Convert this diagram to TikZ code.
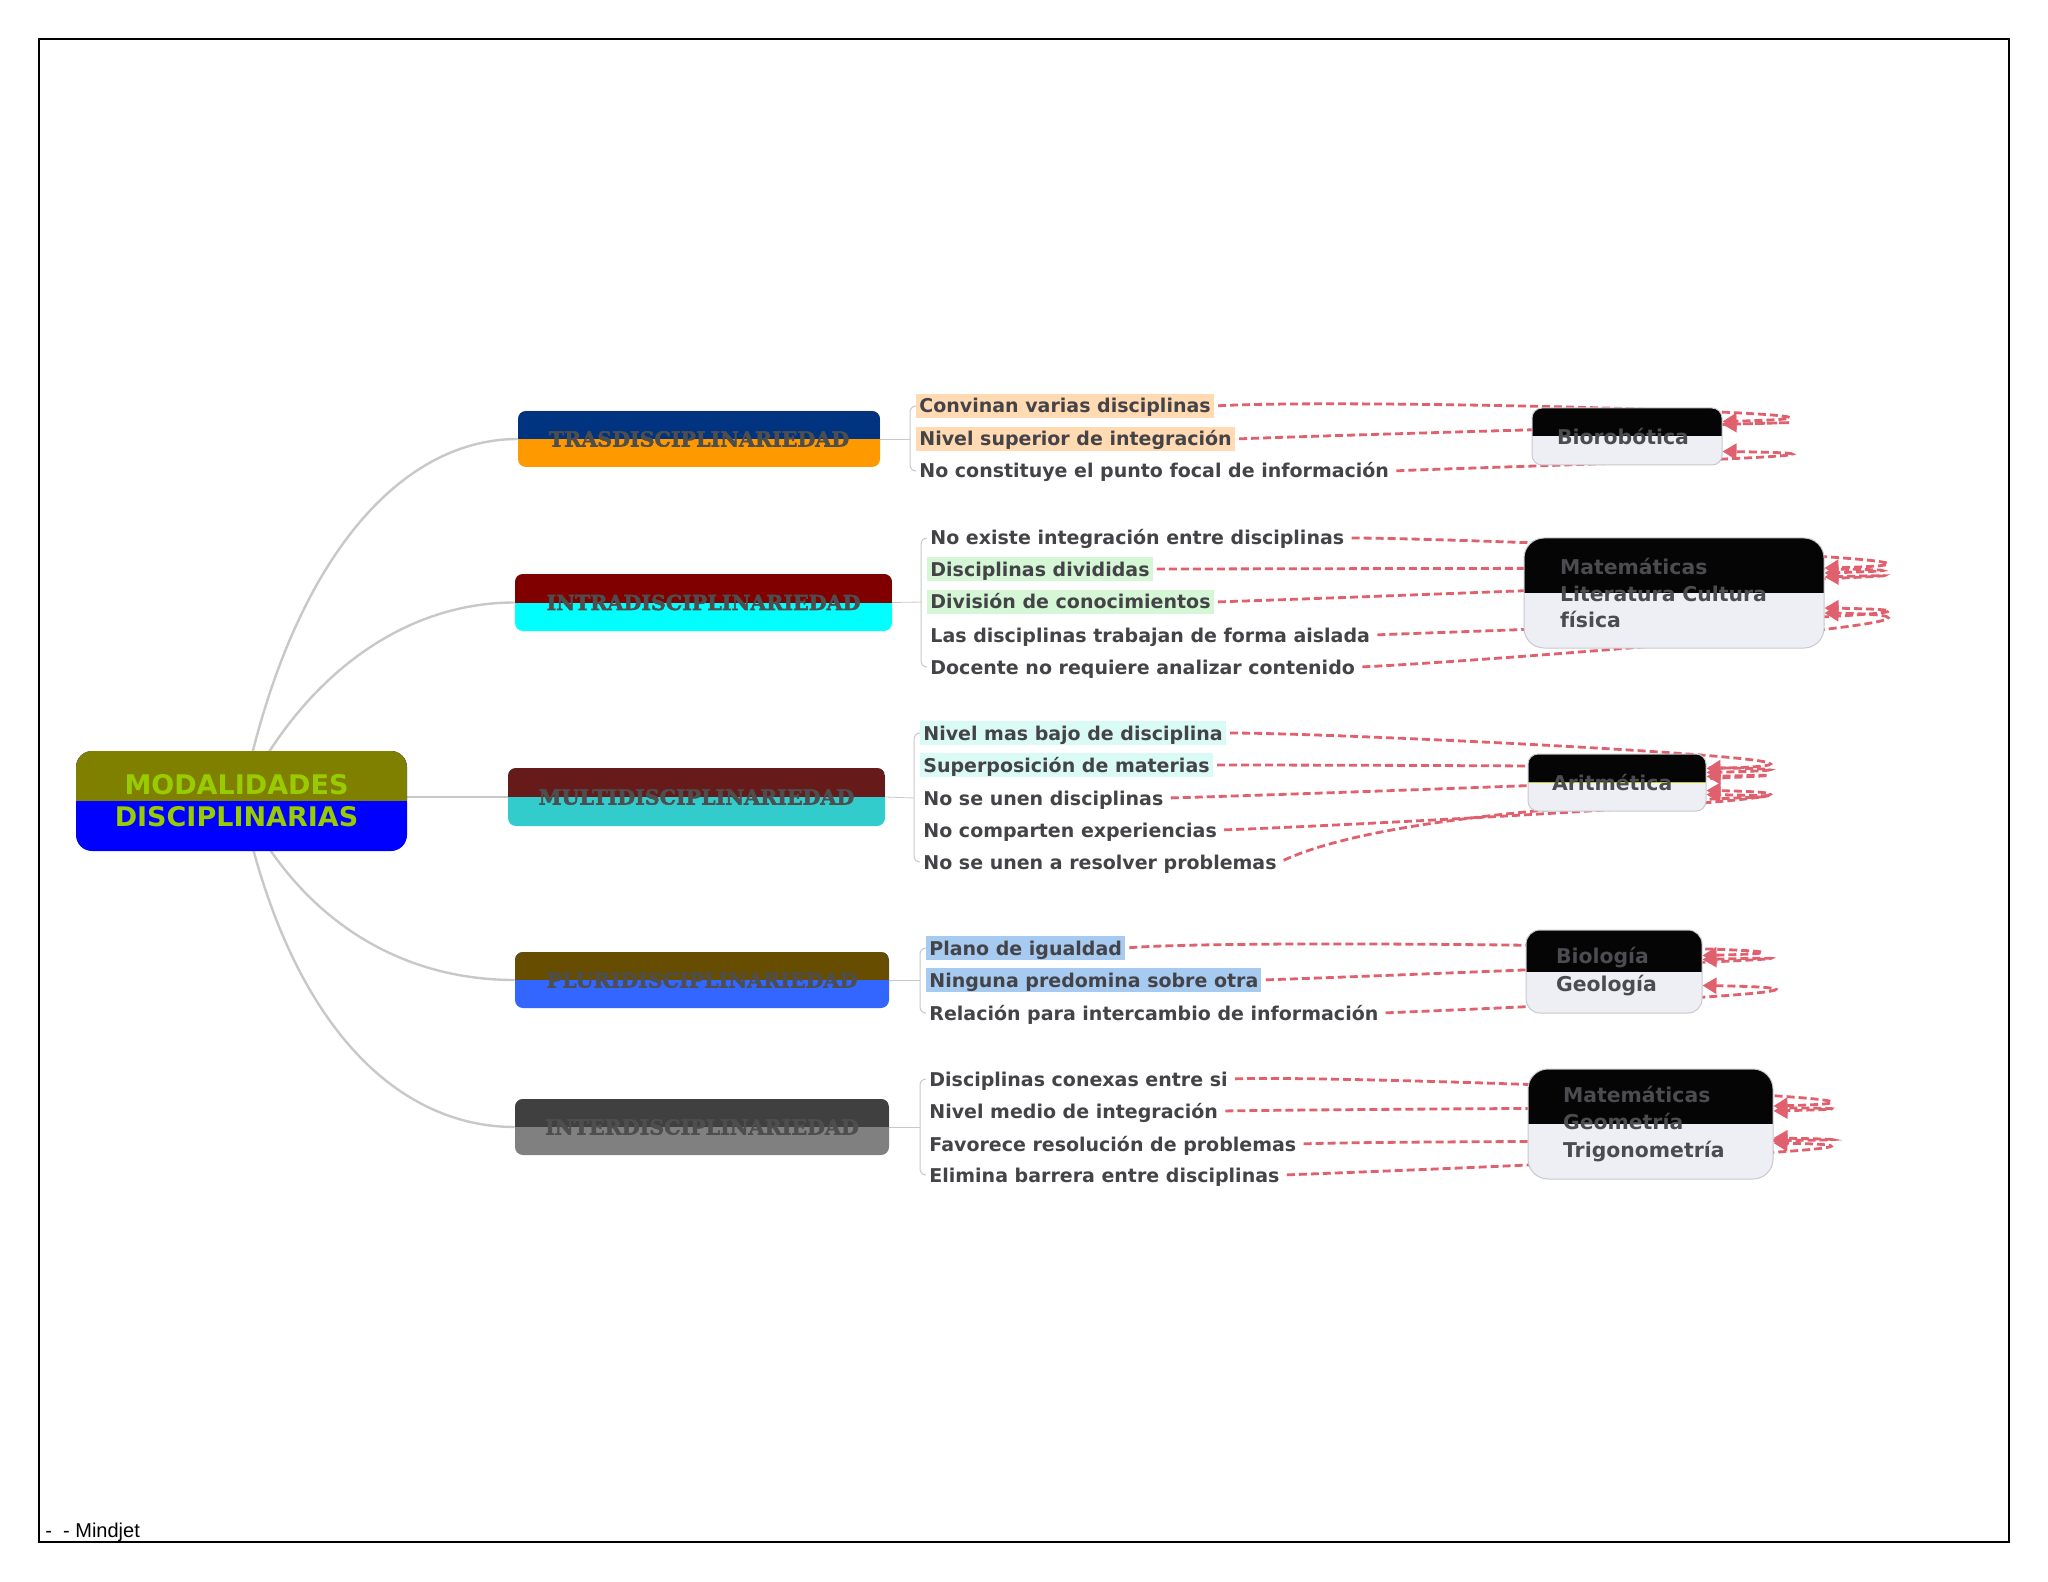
\documentclass[tikz,border=0pt]{standalone}
\usepackage{fontspec}
\newfontfamily\sansdv{DejaVu Sans}
\newfontfamily\serifdv{DejaVu Serif}[BoldFeatures={FakeBold=2.5}]
\newfontfamily\arialf{Liberation Sans}
\usetikzlibrary{arrows.meta,calc,backgrounds}
\pgfdeclarelayer{back0}
\pgfsetlayers{back0,background,main}
\definecolor{rootTop}{RGB}{128,128,0}
\definecolor{rootBot}{RGB}{0,0,255}
\definecolor{rootText}{RGB}{153,204,0}
\definecolor{trasTop}{RGB}{0,51,128}
\definecolor{trasBot}{RGB}{255,153,0}
\definecolor{intraTop}{RGB}{128,0,0}
\definecolor{intraBot}{RGB}{0,255,255}
\definecolor{multiTop}{RGB}{102,26,26}
\definecolor{multiBot}{RGB}{51,204,204}
\definecolor{pluriTop}{RGB}{102,77,0}
\definecolor{pluriBot}{RGB}{51,102,255}
\definecolor{interTop}{RGB}{64,64,64}
\definecolor{interBot}{RGB}{128,128,128}
\definecolor{branchText}{RGB}{78,78,78}
\definecolor{subText}{RGB}{68,68,72}
\definecolor{tgtTop}{RGB}{5,5,5}
\definecolor{tgtBot}{RGB}{238,238,245}
\definecolor{tgtBorder}{RGB}{200,200,208}
\definecolor{tgtText}{RGB}{75,75,80}
\definecolor{relCol}{RGB}{224,96,110}
\definecolor{connCol}{RGB}{200,200,200}
\definecolor{splitLine}{RGB}{190,200,40}
\definecolor{hlPeach}{RGB}{255,218,179}
\definecolor{hlGreen}{RGB}{214,247,214}
\definecolor{hlCyan}{RGB}{218,250,246}
\definecolor{hlBlue}{RGB}{166,202,240}
\tikzset{
  twotone/.style 2 args={fill=#2, path picture={\fill[#1, sharp corners] (path picture bounding box.north west) rectangle (path picture bounding box.east);}},
  twotoneline/.style 2 args={fill=#2, path picture={\fill[#1, sharp corners] (path picture bounding box.north west) rectangle (path picture bounding box.east); \draw[splitLine, line width=0.6pt] (path picture bounding box.west) -- (path picture bounding box.east);}},
  rootbox/.style={twotone={rootTop}{rootBot}, rounded corners=8pt, inner sep=0pt, minimum width=165.5pt, minimum height=50pt, align=center, text=rootText, font=\sansdv\bfseries\fontsize{13.5pt}{16pt}\selectfont},
  branch/.style={rounded corners=4pt, inner sep=0pt, text=branchText, font=\serifdv\bfseries\fontsize{10.3pt}{12pt}\selectfont},
  sub/.style={anchor=west, inner xsep=1.5pt, inner ysep=1pt, text height=8.5pt, text depth=1.5pt, text=subText, font=\sansdv\bfseries\fontsize{9.5pt}{11pt}\selectfont},
  target/.style={draw=tgtBorder, line width=0.5pt, align=left, inner ysep=0pt, text=tgtText},
  tfont/.style={font=\sansdv\bfseries\fontsize{10.2pt}{#1}\selectfont},
  rel/.style={draw=relCol, line width=1.4pt, dash pattern=on 4pt off 2pt, shorten <=2pt, -{Triangle[length=7pt,width=8pt]}},
  conn/.style={draw=connCol, line width=1.2pt},
  brk/.style={draw=connCol, line width=0.5pt, rounded corners=3pt},
}
\begin{document}
\begin{tikzpicture}[x=0.5pt,y=-0.5pt]
\useasboundingbox (0,0) rectangle (2048,1582);
\begin{pgfonlayer}{back0}
\fill[white] (0,0) rectangle (2048,1582);
\draw[black, line width=0.6pt] (39,39) rectangle (2009,1542);
\end{pgfonlayer}

% root
\node[rootbox] (root) at (241.5,801) {\hspace*{-5pt}MODALIDADES\\\hspace*{-5pt}DISCIPLINARIAS};

% branches
\node[branch, twotone={trasTop}{trasBot}, minimum width=181pt, minimum height=28pt] (tras) at (699,439) {TRASDISCIPLINARIEDAD};
\node[branch, twotone={intraTop}{intraBot}, minimum width=188.5pt, minimum height=28.5pt] (intra) at (703.5,602.5) {INTRADISCIPLINARIEDAD};
\node[branch, twotone={multiTop}{multiBot}, minimum width=188.5pt, minimum height=29pt] (multi) at (696.5,797) {MULTIDISCIPLINARIEDAD};
\node[branch, twotone={pluriTop}{pluriBot}, minimum width=187pt, minimum height=28pt] (pluri) at (702,980) {PLURIDISCIPLINARIEDAD};
\node[branch, twotone={interTop}{interBot}, minimum width=187pt, minimum height=28pt] (inter) at (702,1127) {INTERDISCIPLINARIEDAD};

% subtopics
\node[sub, fill=hlPeach] (t11) at (916,406) {Convinan varias disciplinas};
\node[sub, fill=hlPeach] (t12) at (916,439) {Nivel superior de integración};
\node[sub] (t13) at (916,471) {No constituye el punto focal de información};

\node[sub] (t21) at (927,538) {No existe integración entre disciplinas};
\node[sub, fill=hlGreen] (t22) at (927,569) {Disciplinas divididas};
\node[sub, fill=hlGreen] (t23) at (927,602) {División de conocimientos};
\node[sub] (t24) at (927,635) {Las disciplinas trabajan de forma aislada};
\node[sub] (t25) at (927,667) {Docente no requiere analizar contenido};

\node[sub, fill=hlCyan] (t31) at (920,733) {Nivel mas bajo de disciplina};
\node[sub, fill=hlCyan] (t32) at (920,765) {Superposición de materias};
\node[sub] (t33) at (920,798) {No se unen disciplinas};
\node[sub] (t34) at (920,830) {No comparten experiencias};
\node[sub] (t35) at (920,862) {No se unen a resolver problemas};

\node[sub, fill=hlBlue] (t41) at (926,948) {Plano de igualdad};
\node[sub, fill=hlBlue] (t42) at (926,980) {Ninguna predomina sobre otra};
\node[sub] (t43) at (926,1013) {Relación para intercambio de información};

\node[sub] (t51) at (926,1079) {Disciplinas conexas entre si};
\node[sub] (t52) at (926,1111) {Nivel medio de integración};
\node[sub] (t53) at (926,1144) {Favorece resolución de problemas};
\node[sub] (t54) at (926,1175) {Elimina barrera entre disciplinas};

% targets
\node[target, twotone={tgtTop}{tgtBot}, tfont=12pt, rounded corners=5pt, minimum height=28.5pt, text width=70pt, inner xsep=12.5pt] (b1) at (1627,436.5) {Biorobótica};
\node[target, twotone={tgtTop}{tgtBot}, tfont=13.25pt, rounded corners=10pt, minimum height=55pt, text width=114pt, inner xsep=18pt] (b2) at (1674,593) {Matemáticas\\Literatura Cultura\\física};
\node[target, twotoneline={tgtTop}{tgtBot}, tfont=12pt, rounded corners=5pt, minimum height=28.5pt, text width=65pt, inner xsep=12pt] (b3) at (1617,782.5) {Aritmética};
\node[target, twotone={tgtTop}{tgtBot}, tfont=14pt, rounded corners=7pt, minimum height=41.5pt, text width=58pt, inner xsep=15pt] (b4) at (1614,971.5) {Biología\\Geología};
\node[target, twotone={tgtTop}{tgtBot}, tfont=13.75pt, rounded corners=10pt, minimum height=55pt, text width=87.5pt, inner xsep=17.5pt] (b5) at (1650.5,1124) {Matemáticas\\Geometría\\Trigonometría};

% footer
\node[anchor=west, inner sep=0pt, font=\arialf\fontsize{10pt}{12pt}\selectfont] (foot) at (45,1532) {-~~- Mindjet};

\begin{scope}[on background layer]
% root connectors
\draw[conn] (root.center) .. controls (290,560) and (400,439) .. (tras.west);
\draw[conn] (root.center) .. controls (300,680) and (400,602.5) .. (intra.west);
\draw[conn] (root.east |- multi.west) -- (multi.west);
\draw[conn] (root.center) .. controls (300,920) and (400,980) .. (pluri.west);
\draw[conn] (root.center) .. controls (290,1030) and (400,1127) .. (inter.west);

% brackets
\draw[brk] (t11.west) -- ++(-6,0) |- (t13.west);
\draw[brk, line width=0.4pt] (tras.east) -- ([xshift=-3pt]t12.west);
\draw[brk] (t21.west) -- ++(-6,0) |- (t25.west);
\draw[brk, line width=0.4pt] (intra.east) -- ([xshift=-3pt]t23.west);
\draw[brk] (t31.west) -- ++(-6,0) |- (t35.west);
\draw[brk, line width=0.4pt] (multi.east) -- ([xshift=-3pt]t33.west);
\draw[brk] (t41.west) -- ++(-6,0) |- (t43.west);
\draw[brk, line width=0.4pt] (pluri.east) -- ([xshift=-3pt]t42.west);
\draw[brk] (t51.west) -- ++(-6,0) |- (t54.west);
\draw[brk, line width=0.4pt] (inter.east) -- ([xshift=-3pt]t51.west |- inter.east);

% relations
\draw[rel] (t11.east) .. controls +(150,-8) and +(250,-6) .. ($(b1.east)+(0,-15)$);
\draw[rel] (t12.east) .. controls +(130,-5) and +(250,-7) .. ($(b1.east)+(0,-12)$);
\draw[rel] (t13.east) .. controls +(90,-4) and +(230,3) .. ($(b1.east)+(0,15)$);

\draw[rel] (t21.east) .. controls +(110,0) and +(240,-6) .. ($(b2.east)+(0,-25)$);
\draw[rel] (t22.east) .. controls +(150,0) and +(250,-7) .. ($(b2.east)+(0,-20)$);
\draw[rel] (t23.east) .. controls +(130,-4) and +(250,-7) .. ($(b2.east)+(0,-16)$);
\draw[rel] (t24.east) .. controls +(100,-4) and +(240,4) .. ($(b2.east)+(0,15)$);
\draw[rel] (t25.east) .. controls +(100,-4) and +(240,4) .. ($(b2.east)+(0,20)$);

\draw[rel] (t31.east) .. controls +(120,0) and +(240,-6) .. ($(b3.east)+(0,-14)$);
\draw[rel] (t32.east) .. controls +(120,0) and +(240,-6) .. ($(b3.east)+(0,-10)$);
\draw[rel] (t33.east) .. controls +(150,-4) and +(240,-6) .. ($(b3.east)+(0,-6)$);
\draw[rel] (t34.east) .. controls +(120,-4) and +(240,4) .. ($(b3.east)+(0,8)$);
\draw[rel] (t35.east) .. controls +(150,-70) and +(220,4) .. ($(b3.east)+(0,12)$);

\draw[rel] (t41.east) .. controls +(130,-10) and +(245,-6) .. ($(b4.east)+(0,-16)$);
\draw[rel] (t42.east) .. controls +(120,-4) and +(245,-6) .. ($(b4.east)+(0,-12)$);
\draw[rel] (t43.east) .. controls +(100,-4) and +(235,4) .. ($(b4.east)+(0,14)$);

\draw[rel] (t51.east) .. controls +(120,-4) and +(235,-6) .. ($(b5.east)+(0,-18)$);
\draw[rel] (t52.east) .. controls +(130,-2) and +(235,-6) .. ($(b5.east)+(0,-13)$);
\draw[rel] (t53.east) .. controls +(110,-4) and +(225,4) .. ($(b5.east)+(0,14)$);
\draw[rel] (t54.east) .. controls +(110,-4) and +(225,4) .. ($(b5.east)+(0,19)$);
\end{scope}
\end{tikzpicture}
\end{document}
